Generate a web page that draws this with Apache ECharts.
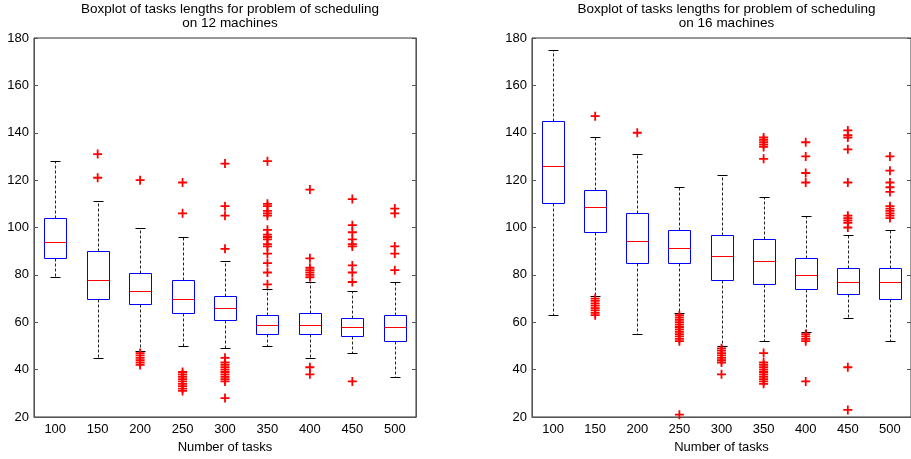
<!DOCTYPE html>
<html>
<head>
<meta charset="utf-8">
<script src="https://cdn.jsdelivr.net/npm/echarts@6/dist/echarts.min.js"></script>
<style>html,body{margin:0;padding:0;background:#fff}#c{width:911px;height:459px}</style>
</head>
<body>
<div id="c"></div>
<script>
var categories = ['100','150','200','250','300','350','400','450','500'];
var yTicks = [20, 40, 60, 80, 100, 120, 140, 160, 180];

// 12 machines
var m12Min = [79, 45, 48, 50, 49, 50, 45, 47, 37];
var m12Q1  = [87, 70, 67.5, 64, 61, 55, 55, 54, 52];
var m12Med = [94, 78, 73, 70, 66, 59, 59, 58, 58];
var m12Q3  = [104, 90, 81, 78, 71, 63, 64, 62, 63];
var m12Max = [128, 111, 100, 96, 86, 74, 77, 73, 77];
var m12Out = [
  [],
  [131, 121],
  [120, 47, 46, 45, 44, 43, 42],
  [119, 106, 39, 38, 37, 36, 35, 34, 33, 32, 31],
  [127, 109, 105, 91, 45, 43, 42, 41, 40, 39, 38, 37, 36, 35, 28],
  [128, 110, 109, 107, 106, 105, 99, 97, 96, 95, 93, 92, 89, 85, 81, 76],
  [116, 87, 83, 82, 81, 80, 79, 41, 38],
  [112, 101, 98, 95, 93, 92, 84, 81, 77, 35],
  [108, 106, 92, 89, 82]
];

// 16 machines
var m16Min = [63, 71, 55, 64, 50, 52, 56, 62, 52];
var m16Q1  = [110.5, 98, 85, 85, 78, 76, 74, 72, 70];
var m16Med = [126, 108.5, 94.5, 91.5, 88, 86, 80, 77, 77];
var m16Q3  = [145, 116, 106, 99, 97, 95, 87, 83, 83];
var m16Max = [175, 138, 131, 117, 122, 113, 105, 97, 99];
var m16Out = [
  [],
  [147, 70, 69, 68, 67, 66, 65, 64, 63],
  [140],
  [63, 62, 61, 60, 59, 58, 57, 56, 55, 54, 53, 52, 21],
  [49, 48, 47, 46, 45, 44, 43, 38],
  [138, 137, 136, 135, 134, 129, 47, 43, 42, 41, 40, 39, 38, 37, 36, 35, 34],
  [136, 130, 123, 119, 55, 54, 53, 52, 35],
  [141, 139, 138, 133, 119, 105, 104, 103, 102, 100, 41, 23],
  [130, 124, 119, 117, 115, 109, 108, 107, 106, 105, 104]
];

var titleLine1 = 'Boxplot of tasks lengths for problem of scheduling';
var titles = ['on 12 machines', 'on 16 machines'];
var xName = 'Number of tasks';

function boxData(mn, q1, md, q3, mx) {
  return categories.map(function (c, i) { return [i, mn[i], q1[i], md[i], q3[i], mx[i]]; });
}
function outData(out) {
  var r = [];
  out.forEach(function (arr, i) { arr.forEach(function (v) { r.push([i, v]); }); });
  return r;
}

var FONT = '"Liberation Sans", Arial, Helvetica, sans-serif';

function renderBox(params, api) {
  var x = api.value(0);
  var pMin = api.coord([x, api.value(1)]);
  var pQ1 = api.coord([x, api.value(2)]);
  var pMed = api.coord([x, api.value(3)]);
  var pQ3 = api.coord([x, api.value(4)]);
  var pMax = api.coord([x, api.value(5)]);
  var band = api.size([1, 0])[0];
  var hw = Math.round(band * 0.25);
  var cw = Math.round(band * 0.12);
  var cx = Math.round(pMin[0]) + 0.5;
  function ry(p) { return Math.round(p[1]) + 0.5; }
  var yMin = ry(pMin), yQ1 = ry(pQ1), yMed = ry(pMed), yQ3 = ry(pQ3), yMax = ry(pMax);
  var dashStyle = { stroke: '#222', lineWidth: 1, lineDash: [3, 2] };
  var solid = function (c) { return { stroke: c, lineWidth: 1 }; };
  return {
    type: 'group',
    children: [
      { type: 'line', shape: { x1: cx, y1: yQ3, x2: cx, y2: yMax }, style: dashStyle },
      { type: 'line', shape: { x1: cx, y1: yQ1, x2: cx, y2: yMin }, style: dashStyle },
      { type: 'line', shape: { x1: cx - cw, y1: yMax, x2: cx + cw, y2: yMax }, style: solid('#000') },
      { type: 'line', shape: { x1: cx - cw, y1: yMin, x2: cx + cw, y2: yMin }, style: solid('#000') },
      { type: 'rect', shape: { x: cx - hw, y: yQ3, width: 2 * hw, height: yQ1 - yQ3 }, style: { fill: 'none', stroke: '#0000ff', lineWidth: 1 } },
      { type: 'line', shape: { x1: cx - hw, y1: yMed, x2: cx + hw, y2: yMed }, style: solid('#ff0000') }
    ]
  };
}

var grids = [
  { left: 34, top: 38, width: 382, height: 379 },
  { left: 532, top: 38, width: 381, height: 379 }
];

var option = {
  animation: false,
  backgroundColor: '#fff',
  textStyle: { fontFamily: FONT },
  title: [0, 1].map(function (k) {
    var g = grids[k];
    return {
      text: titleLine1 + '\n' + titles[k],
      left: g.left + g.width / 2 - (k === 1 ? 1 : 0),
      top: -3,
      textAlign: 'center',
      textStyle: { fontFamily: FONT, fontSize: 13.5, fontWeight: 'normal', color: '#000', lineHeight: 14 }
    };
  }),
  grid: grids.map(function (g) {
    return { left: g.left, top: g.top, width: g.width, height: g.height, show: true, borderColor: '#333', borderWidth: 1, backgroundColor: 'transparent' };
  }),
  xAxis: [0, 1].map(function (k) {
    return {
      type: 'category', gridIndex: k, data: categories, boundaryGap: true,
      axisLine: { show: true, lineStyle: { color: '#555', width: 1 } },
      axisTick: { show: false },
      axisLabel: { fontFamily: FONT, fontSize: 13, color: '#000', margin: 6 },
      name: xName, nameLocation: 'middle', nameGap: 21,
      nameTextStyle: { fontFamily: FONT, fontSize: 13, color: '#000' }
    };
  }),
  yAxis: [],
  series: []
};

[0, 1].forEach(function (k) {
  option.yAxis.push({
    type: 'value', gridIndex: k, min: yTicks[0], max: yTicks[yTicks.length - 1], interval: 20,
    axisLine: { show: true, lineStyle: { color: '#555', width: 1 } },
    axisTick: { show: true, inside: true, length: 4, lineStyle: { color: '#555' } },
    axisLabel: { fontFamily: FONT, fontSize: 13, color: '#000', margin: 5 },
    splitLine: { show: false }
  });
  option.yAxis.push({
    type: 'value', gridIndex: k, position: 'right', min: yTicks[0], max: yTicks[yTicks.length - 1], interval: 20,
    axisLine: { show: true, lineStyle: { color: '#555', width: 1 } },
    axisTick: { show: true, inside: true, length: 4, lineStyle: { color: '#555' } },
    axisLabel: { show: false },
    splitLine: { show: false }
  });
});

var sets = [
  { box: boxData(m12Min, m12Q1, m12Med, m12Q3, m12Max), out: outData(m12Out) },
  { box: boxData(m16Min, m16Q1, m16Med, m16Q3, m16Max), out: outData(m16Out) }
];
sets.forEach(function (s, k) {
  option.series.push({
    type: 'custom', xAxisIndex: k, yAxisIndex: 2 * k,
    renderItem: renderBox,
    encode: { x: 0, y: [1, 2, 3, 4, 5] },
    data: s.box, z: 2
  });
  option.series.push({
    type: 'scatter', xAxisIndex: k, yAxisIndex: 2 * k,
    symbol: 'path://M4,0H6V4H10V6H6V10H4V6H0V4H4Z',
    symbolSize: 9,
    itemStyle: { color: '#ff0000', opacity: 1 },
    data: s.out, z: 3
  });
});

var chart = echarts.init(document.getElementById('c'), null, { renderer: 'canvas' });
chart.setOption(option);
</script>
</body>
</html>
